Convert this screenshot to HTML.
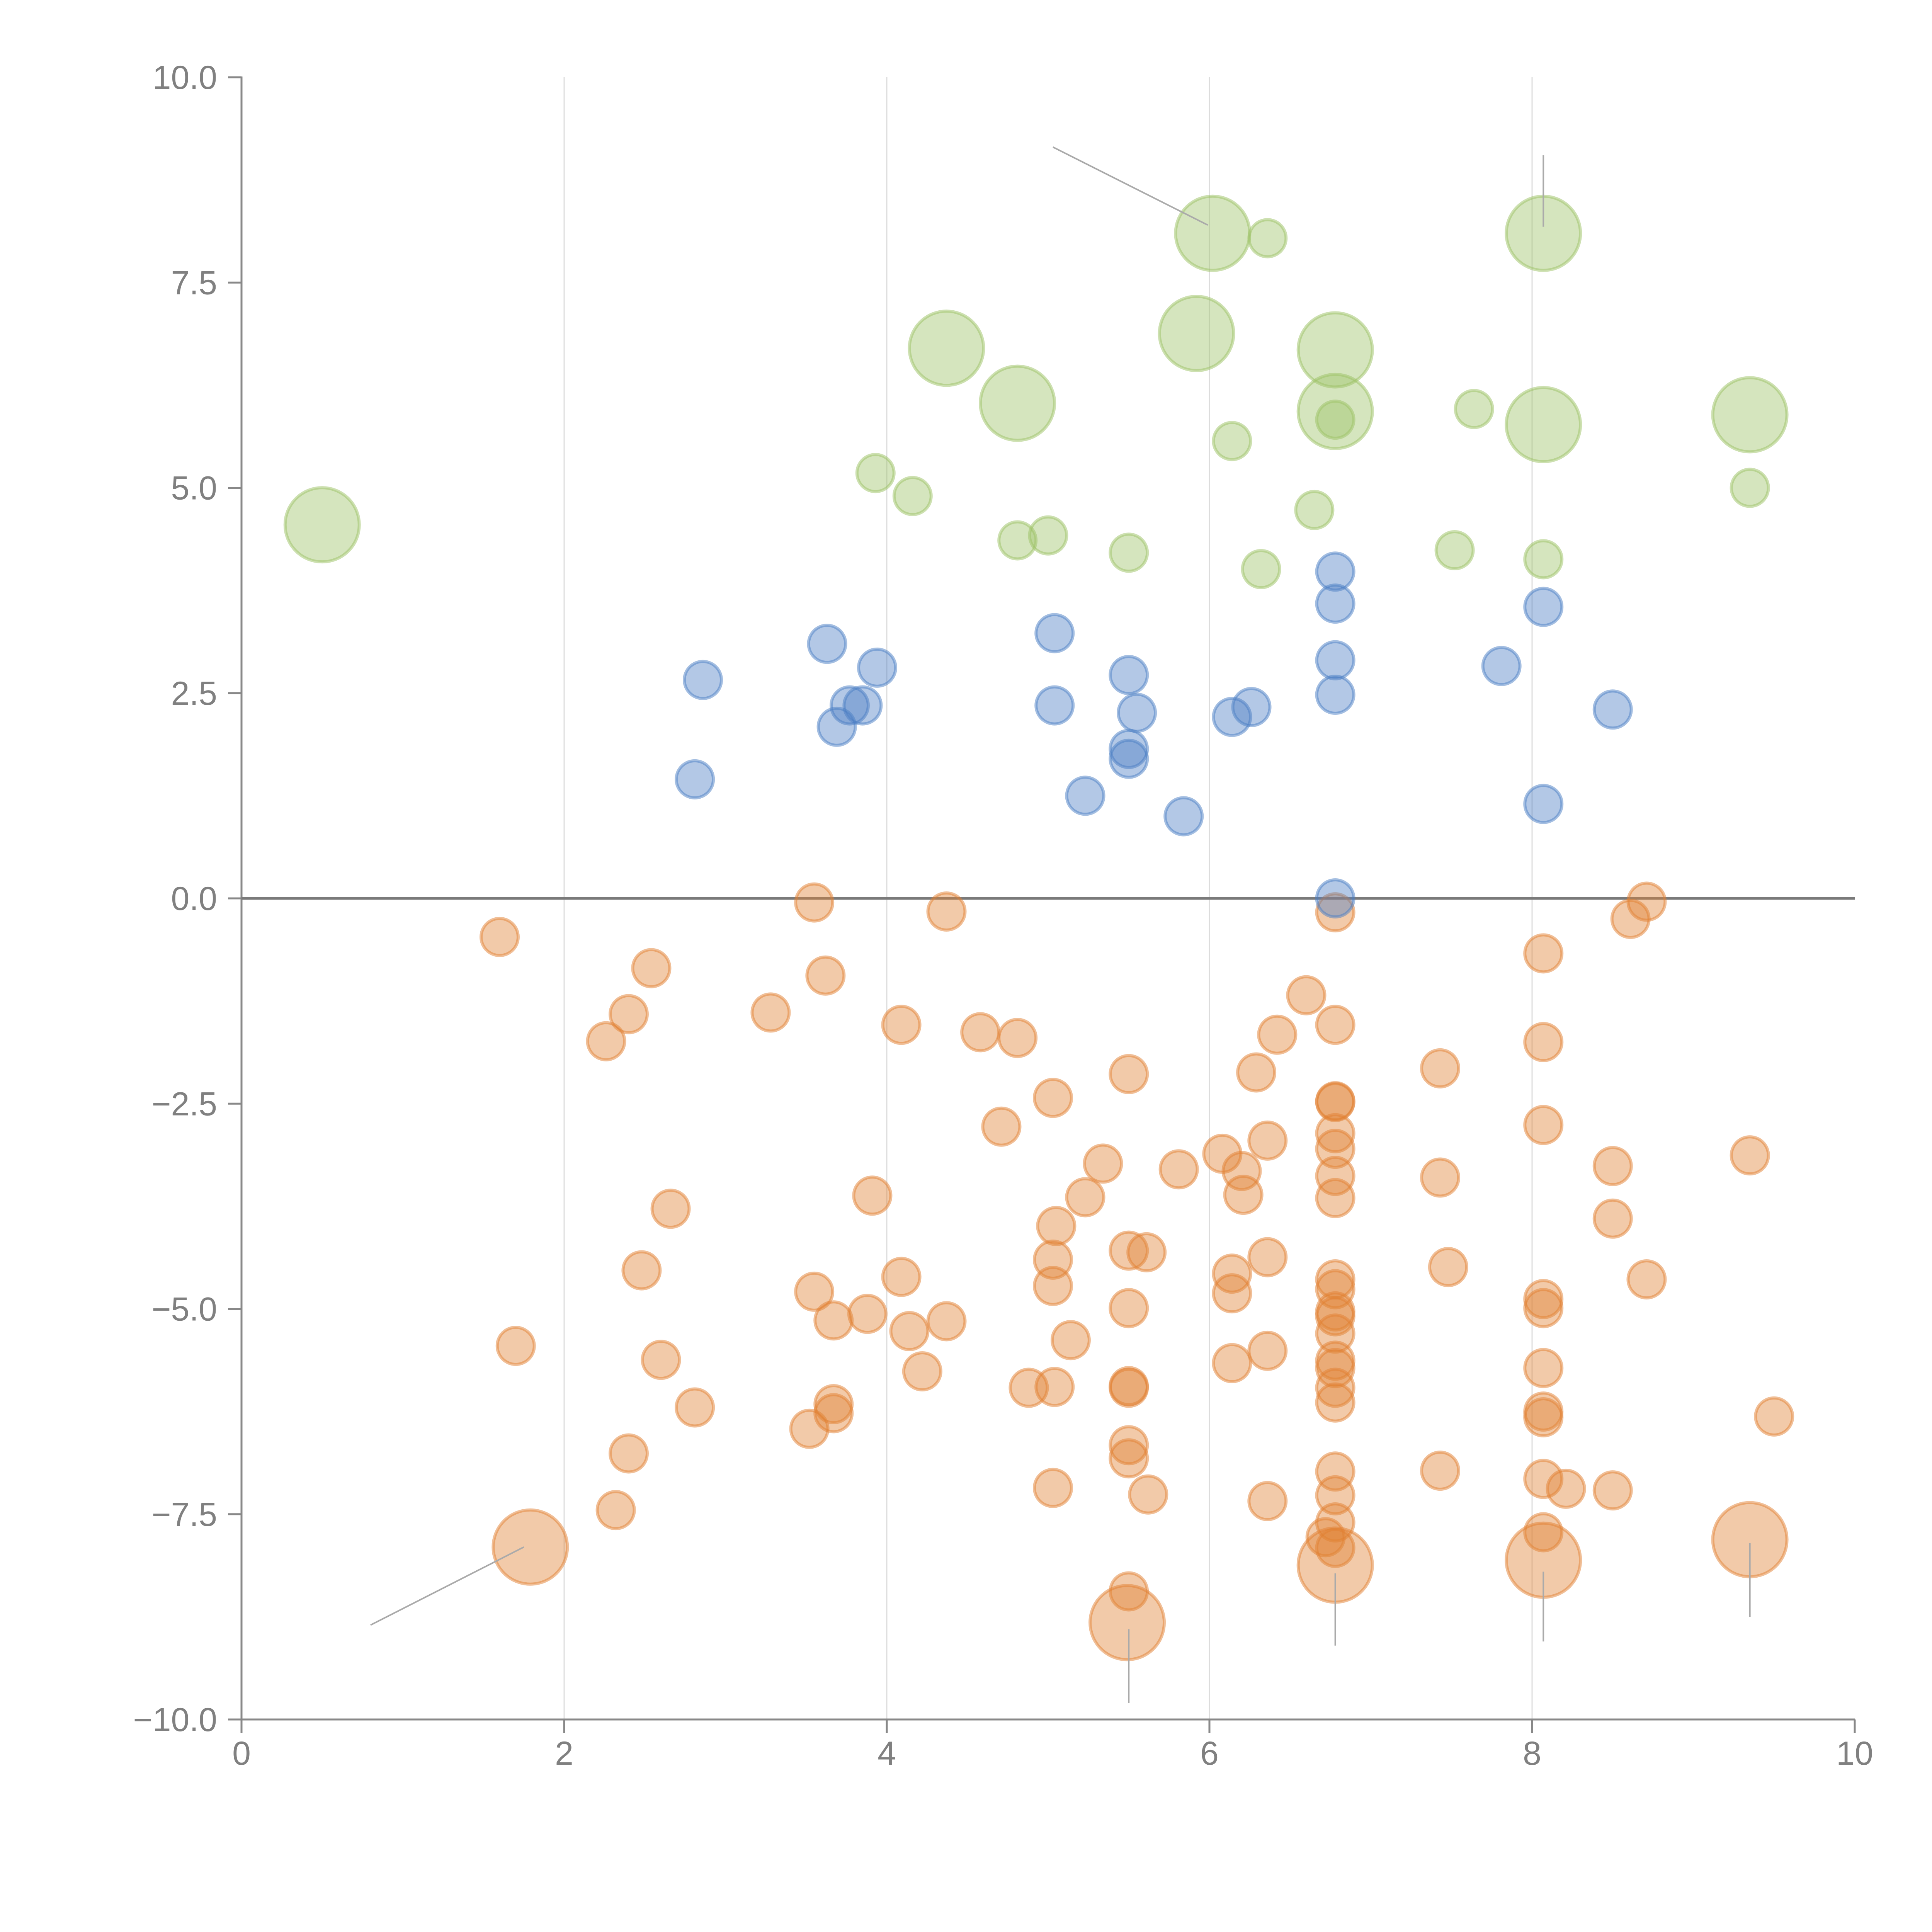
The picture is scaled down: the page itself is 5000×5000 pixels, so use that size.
<!DOCTYPE html>
<html><head><meta charset="utf-8"><style>html,body{margin:0;padding:0;background:#fff}svg{display:block}</style></head>
<body>
<svg id="chart" width="5000" height="5000" viewBox="0 0 5000 5000" xmlns="http://www.w3.org/2000/svg">
<g id="grid"></g>
<g id="axes"></g>
<g id="marks"></g>
<g id="annos"></g>
</svg>
<script>
const xTicks=[0,2,4,6,8,10];
const yTicks=[-10,-7.5,-5,-2.5,0,2.5,5,7.5,10];
const yTickLabels=["−10.0","−7.5","−5.0","−2.5","0.0","2.5","5.0","7.5","10.0"];
const greenX=[0.50,6.02,8.07,4.37,5.92,6.78,4.81,6.78,8.07,9.35,6.36,7.64,6.78,6.14,3.93,4.16,9.35,4.81,5.00,5.50,6.65,7.52,8.07,6.32];
const greenY=[4.55,8.10,8.10,6.70,6.88,6.68,6.03,5.93,5.77,5.89,8.04,5.96,5.83,5.57,5.18,4.90,5.00,4.36,4.42,4.21,4.73,4.24,4.13,4.01];
const greenS=[4,4,4,4,4,4,4,4,4,4,1,1,1,1,1,1,1,1,1,1,1,1,1,1];
const blueX=[2.86,2.81,3.63,3.94,3.77,3.85,3.69,5.04,5.04,5.50,5.55,5.50,5.50,5.23,5.84,6.14,6.26,6.78,6.78,6.78,6.78,7.81,8.50,8.07,8.07,6.78];
const blueY=[2.66,1.45,3.10,2.81,2.35,2.35,2.09,3.23,2.35,2.72,2.26,1.82,1.70,1.25,1.00,2.21,2.33,3.98,3.59,2.90,2.48,2.83,2.30,3.55,1.15,0.00];
const orangeX=[1.60,1.70,2.26,2.40,2.54,2.48,2.66,2.60,2.81,2.40,2.32,3.28,3.55,3.62,3.55,3.67,3.52,3.67,3.67,3.88,3.91,4.09,4.09,4.14,4.22,4.37,4.37,4.58,4.81,4.71,4.88,5.03,5.05,5.03,5.03,5.04,5.14,5.03,5.23,5.34,5.50,5.50,5.61,5.50,5.50,5.50,5.50,5.50,5.62,5.50,5.81,6.08,6.20,6.21,6.14,6.14,6.14,6.29,6.42,6.36,6.36,6.36,6.36,6.60,6.78,6.78,6.78,6.78,6.78,6.78,6.78,6.78,6.78,6.78,6.78,6.78,6.78,6.78,6.78,6.78,6.78,6.78,6.78,6.78,6.72,6.78,7.43,7.43,7.48,7.43,8.07,8.07,8.07,8.07,8.07,8.07,8.07,8.07,8.07,8.07,8.21,8.50,8.50,8.50,8.61,8.71,8.71,9.35,9.50,1.79,5.49,6.78,8.07,9.35];
const orangeY=[-0.47,-5.45,-1.74,-1.41,-0.85,-4.53,-3.78,-5.62,-6.20,-6.76,-7.45,-1.39,-0.05,-0.94,-4.79,-5.14,-6.46,-6.16,-6.27,-5.06,-3.62,-1.54,-4.61,-5.27,-5.76,-0.16,-5.15,-1.63,-1.70,-2.78,-5.96,-2.43,-3.99,-4.40,-4.72,-5.95,-5.38,-7.18,-3.64,-3.23,-2.14,-4.29,-4.31,-4.99,-5.94,-5.96,-6.66,-6.82,-7.26,-8.44,-3.30,-3.11,-3.32,-3.61,-4.57,-4.81,-5.66,-2.12,-1.66,-2.95,-4.37,-5.51,-7.34,-1.18,-0.17,-1.54,-2.47,-2.48,-2.86,-3.05,-3.38,-3.65,-4.64,-4.76,-5.03,-5.09,-5.30,-5.63,-5.72,-5.96,-6.14,-6.98,-7.27,-7.60,-7.78,-7.91,-2.07,-3.40,-4.49,-6.97,-0.67,-1.75,-2.76,-4.88,-4.99,-5.72,-6.25,-6.32,-7.07,-7.72,-7.19,-3.26,-3.90,-7.21,-0.25,-0.04,-4.64,-3.13,-6.31,-7.90,-8.82,-8.12,-8.06,-7.81];
const orangeS=orangeX.map((_,i)=>i>=orangeX.length-5?4:1);
const annoX1=[5.03,8.07,0.80,5.50,6.78,8.07,9.35];
const annoY1=[9.15,9.05,-8.85,-8.90,-9.10,-9.05,-8.75];
const annoX2=[5.99,8.07,1.75,5.50,6.78,8.07,9.35];
const annoY2=[8.20,8.18,-7.90,-9.80,-8.22,-8.20,-7.85];

const NS="http://www.w3.org/2000/svg";
const X0=625,X1=4800,Y0=4450,Y1=200;
const sx=v=>X0+(v-0)/(10-0)*(X1-X0);
const sy=v=>Y0-(v+10)/20*(Y0-Y1);
function mk(tag,attrs,parent){const e=document.createElementNS(NS,tag);for(const k in attrs)e.setAttribute(k,attrs[k]);parent.appendChild(e);return e;}
const grid=document.getElementById('grid'),axes=document.getElementById('axes'),marks=document.getElementById('marks'),annos=document.getElementById('annos');
xTicks.forEach(t=>{
  if(t>0&&t<10){const g=mk('line',{x1:sx(t),x2:sx(t),y1:Y1,y2:Y0,stroke:'#dcdcdc','stroke-width':3},grid);
  
  }
  const tk=mk('line',{x1:sx(t),x2:sx(t),y1:Y0,y2:Y0+35,stroke:'#888','stroke-width':5},axes);
  
  
  const tx=mk('text',{x:sx(t),y:Y0+117,'text-anchor':'middle','font-family':'Liberation Sans, Arial, sans-serif','font-size':86,fill:'#808080'},axes);
  tx.textContent=String(t);
  
  
});
yTicks.forEach((t,i)=>{
  const tk=mk('line',{x1:X0-35,x2:X0,y1:sy(t),y2:sy(t),stroke:'#888','stroke-width':5},axes);
  
  
  const tx=mk('text',{x:X0-63,y:sy(t)+30,'text-anchor':'end','font-family':'Liberation Sans, Arial, sans-serif','font-size':86,fill:'#808080'},axes);
  tx.textContent=yTickLabels[i];
  
  
});
const xa=mk('line',{x1:X0,x2:X1,y1:Y0,y2:Y0,stroke:'#888','stroke-width':5},axes);


const ya=mk('line',{x1:X0,x2:X0,y1:Y1-2,y2:Y0,stroke:'#888','stroke-width':5},axes);


const zl=mk('line',{x1:X0,x2:X1,y1:sy(0),y2:sy(0),stroke:'#7a7a7a','stroke-width':7},axes);



function series(xs,ys,ss,fill,name){
  xs.forEach((x,i)=>{
    const s=ss?ss[i]:1;
    const c=mk('circle',{cx:sx(x),cy:sy(ys[i]),r:48*Math.sqrt(s),fill:fill,'fill-opacity':0.42,stroke:fill,'stroke-opacity':0.5,'stroke-width':8},marks);
    
    
  });
}
series(orangeX,orangeY,orangeS,'rgb(225,128,50)','orange-bubble');
series(blueX,blueY,null,'rgb(74,125,196)','blue-bubble');
series(greenX,greenY,greenS,'rgb(155,194,100)','green-bubble');
annoX1.forEach((x,i)=>{
  const l=mk('line',{x1:sx(x),y1:sy(annoY1[i]),x2:sx(annoX2[i]),y2:sy(annoY2[i]),stroke:'#aaaaaa','stroke-width':4},annos);
  
  
});
</script>
</body></html>
